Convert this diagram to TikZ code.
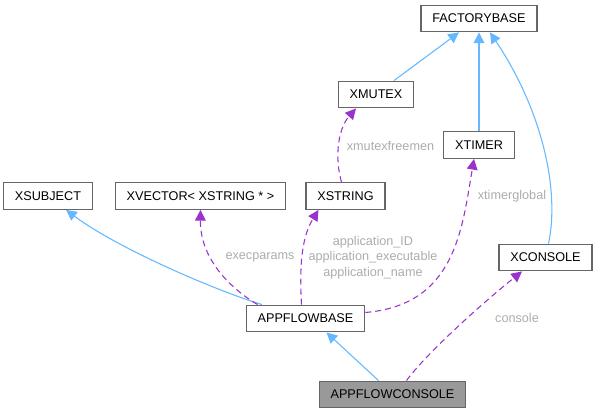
\documentclass[tikz,border=0pt]{standalone}
\usepackage{fontspec}
\setmainfont{Liberation Sans}
\usepackage{tikz}
\usetikzlibrary{arrows.meta,calc}
\definecolor{edgeblue}{RGB}{99,184,255}
\definecolor{edgepurple}{RGB}{154,50,205}
\definecolor{boxgray}{RGB}{102,102,102}
\definecolor{labelgray}{RGB}{172,172,172}
\definecolor{focusgray}{RGB}{153,153,153}

\begin{document}
\begin{tikzpicture}[x=0.75pt, y=-0.75pt]
\tikzstyle{cls} = [rectangle, draw=boxgray, fill=white, line width=0.9pt, minimum height=20pt, inner xsep=8.5pt, text centered, font=\fontsize{9.5}{11}\selectfont]
\tikzstyle{lbl} = [text=labelgray, align=center, inner sep=0pt, font=\fontsize{9.5}{11.75}\selectfont]
\tikzstyle{inherit} = [draw=edgeblue, line width=0.8pt, -{Triangle[length=8pt,width=8pt]}]
\tikzstyle{usage} = [draw=edgepurple, line width=0.8pt, dash pattern=on 4.5pt off 3pt, -{Triangle[length=8pt,width=8pt]}]

\useasboundingbox (0,0) rectangle (597,413);

\node (FactoryBase) [cls] at (479,18.5) {FACTORYBASE};
\node (XMutex) [cls] at (376,94.5) {XMUTEX};
\node (XTimer) [cls] at (479,145) {XTIMER};
\node (XSubject) [cls] at (48,196) {XSUBJECT};
\node (XVector) [cls] at (200.5,196) {XVECTOR< XSTRING * >};
\node (XString) [cls] at (345.5,196) {XSTRING};
\node (XConsole) [cls] at (545.5,257.5) {XCONSOLE};
\node (AppFlowBase) [cls] at (305.5,318.5) {APPFLOWBASE};
\node (AppFlowConsole) [cls, fill=focusgray] at (392.5,394.5) {APPFLOWCONSOLE};

% inheritance
\draw [inherit] ($(AppFlowConsole.north)+(-14,0)$) -- ($(AppFlowBase.south)+(21,0)$);
\draw [inherit] ($(AppFlowBase.north)+(-43.5,0)$) .. controls (220,292) and (120,250) .. ($(XSubject.south)+(18,0)$);
\draw [inherit] ($(XMutex.north)+(18,0)$) -- ($(FactoryBase.south)+(-20,0)$);
\draw [inherit] (XTimer.north) -- (FactoryBase.south);
\draw [inherit] ($(XConsole.north)+(3,0)$) .. controls (560,190) and (542,110) .. ($(FactoryBase.south)+(11,0)$);

% usage
\draw [usage] ($(AppFlowConsole.north)+(14,0)$) .. controls (425,355) and (480,305) .. ($(XConsole.south)+(-23.5,0)$);
\draw [usage] ($(AppFlowBase.north)+(-48,0)$) .. controls (225,285) and (200,255) .. (XVector.south);
\draw [usage] ($(AppFlowBase.north)+(-4,0)$) .. controls (299,260) and (303,235) .. ($(XString.south)+(-27,0)$);
\draw [usage] ($(AppFlowBase.east)+(0,-6)$) .. controls (455,305) and (462,230) .. ($(XTimer.south)+(-5,0)$);
\draw [usage] ($(XString.north)+(-4,0)$) .. controls (335,160) and (337,130) .. ($(XMutex.south)+(-20,0)$);

\node (ConsoleLbl) [lbl] at (517,318) {console};
\node (ExecParamsLbl) [lbl] at (260,257.5) {execparams};
\node (ApplicationLbl) [lbl] at (373,257.5) {application\_ID\\application\_executable\\application\_name};
\node (TimerLbl) [lbl] at (512,196.5) {xtimerglobal};
\node (MutexLbl) [lbl] at (390.5,145.5) {xmutexfreemen};
\end{tikzpicture}
\end{document}
